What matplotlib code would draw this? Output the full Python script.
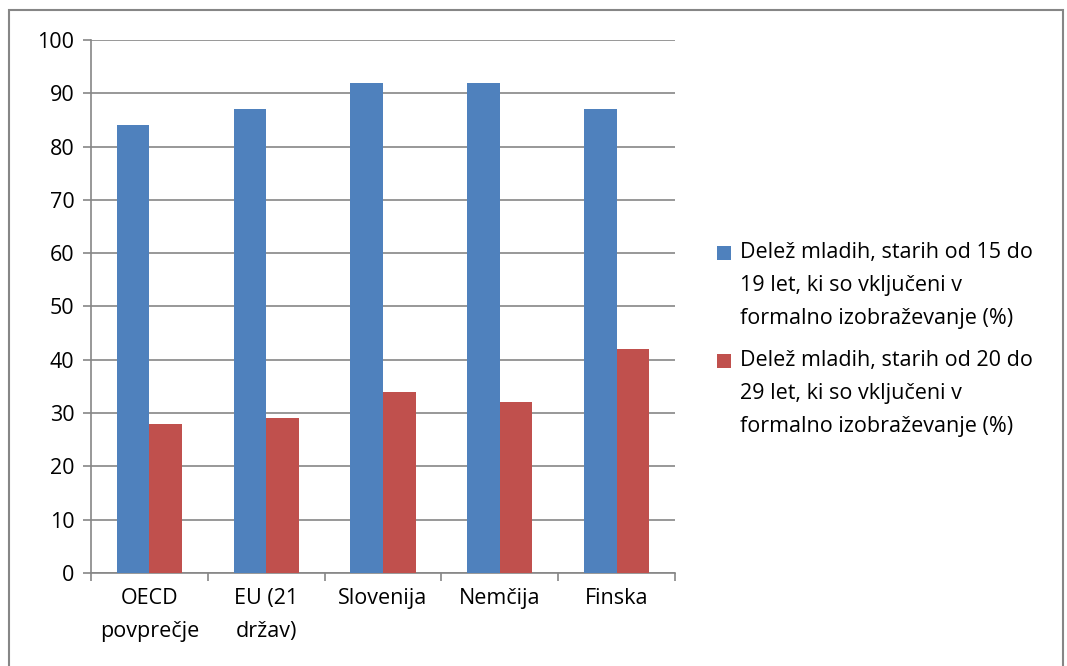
import numpy as np
import matplotlib.pyplot as plt
from matplotlib.patches import Rectangle

plt.rcParams['font.family'] = ['Open Sans', 'DejaVu Sans']

categories = ['OECD\npovprečje', 'EU (21\ndržav)', 'Slovenija', 'Nemčija', 'Finska']
share_15_19 = [84, 87, 92, 92, 87]
share_20_29 = [28, 29, 34, 32, 42]
labels = ['Delež mladih, starih od 15 do\n19 let, ki so vključeni v\nformalno izobraževanje (%)',
          'Delež mladih, starih od 20 do\n29 let, ki so vključeni v\nformalno izobraževanje (%)']
colors = ['#4f81bd', '#c0504d']

fig = plt.figure(figsize=(10.67, 6.66), dpi=100)
ax = fig.add_axes([0.0853, 0.1396, 0.5473, 0.8004])

x = np.arange(len(categories))
w = 0.28
ax.bar(x - w / 2, share_15_19, w, color=colors[0], zorder=3)
ax.bar(x + w / 2, share_20_29, w, color=colors[1], zorder=3)

ax.set_xlim(-0.5, len(categories) - 0.5)
ax.set_ylim(0, 100)
ax.set_yticks(range(0, 101, 10))
ax.yaxis.grid(True, color='#868686', linewidth=1.2, zorder=0)
ax.set_xticks(x)
ax.set_xticklabels(categories, fontsize=15.5, linespacing=1.75)
ax.set_xticks(np.arange(-0.5, len(categories)), minor=True)
ax.tick_params(axis='x', which='major', length=0, pad=11)
ax.tick_params(axis='x', which='minor', length=6, color='#868686', width=1.2)
ax.tick_params(axis='y', labelsize=15.5, length=6, color='#868686', width=1.2, pad=6)

for s in ['top', 'right']:
    ax.spines[s].set_visible(False)
for s in ['left', 'bottom']:
    ax.spines[s].set_color('#868686')
    ax.spines[s].set_linewidth(1.2)

# legend drawn by hand: square next to the first line of each label
for i, (lab, col) in enumerate(zip(labels, colors)):
    sq_y = 0.6096 - i * 0.1622
    fig.patches.append(Rectangle((0.672, sq_y), 0.0131, 0.021, transform=fig.transFigure,
                                 facecolor=col, edgecolor='none'))
    fig.text(0.6935, 0.5706 - i * 0.1607, lab, fontsize=15.5, va='center', ha='left',
             linespacing=1.75)

fig.patches.append(Rectangle((0.008, -0.05), 0.988, 1.035, transform=fig.transFigure,
                             fill=False, edgecolor='#868686', linewidth=1.5))

fig.savefig('out.png', dpi=100)
